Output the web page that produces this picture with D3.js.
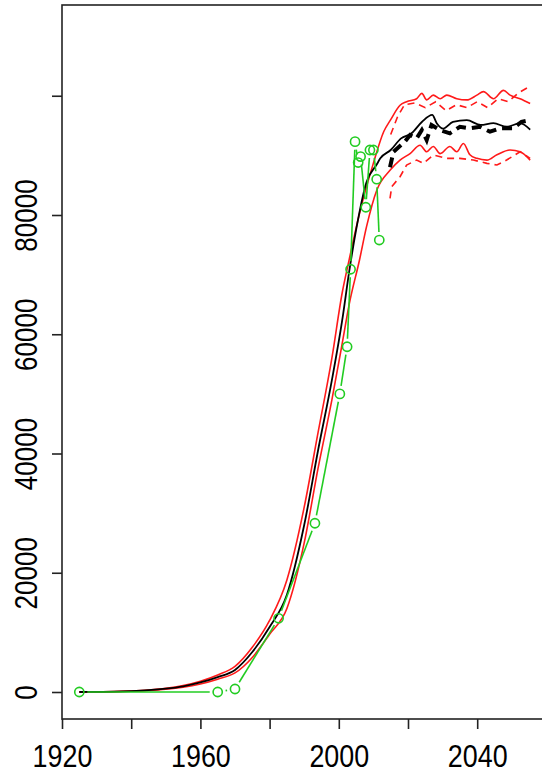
<!DOCTYPE html>
<html>
<head>
<meta charset="utf-8">
<script src="https://cdn.jsdelivr.net/npm/d3@7/dist/d3.min.js"></script>
<style>
  body { margin: 0; background: #fff; }
  svg { display: block; }
  .tick text { font-family: "Liberation Sans", Arial, sans-serif; fill: #000; }
</style>
</head>
<body>
<div id="chart"></div>
<script>
// observed values (green points, drawn R type "b")
var obsYear  = [1925, 1965, 1970, 1982.6, 1993.1, 2000.3, 2002.4, 2003.4, 2004.7, 2005.6, 2006.3, 2007.8, 2009.0, 2010.0, 2010.95, 2011.7];
var obsValue = [0, 0, 500, 12360, 28300, 50000, 57900, 70900, 92300, 88800, 89800, 81300, 90900, 90900, 86000, 75800];

// fitted curve (black solid)
var fitYear  = [1925, 1930, 1935, 1940, 1945, 1950, 1955, 1960, 1965, 1970, 1975, 1980, 1985, 1990, 1994, 1998, 2001, 2003, 2005, 2008, 2011, 2012, 2015, 2018, 2021, 2024, 2027, 2028.3, 2030.2, 2033, 2037, 2041, 2044.7, 2048.5, 2052.4, 2055.3];
var fitValue = [0, 20, 60, 150, 300, 550, 950, 1600, 2500, 3700, 6700, 10900, 16300, 28000, 40500, 52300, 62400, 70500, 77500, 85500, 88500, 89500, 90900, 92850, 93700, 95600, 96800, 95400, 94500, 95600, 95900, 95100, 95400, 94800, 95400, 94300];

// upper bound (red solid)
var upperYear  = [1925, 1930, 1935, 1940, 1945, 1950, 1955, 1960, 1965, 1970, 1975, 1980, 1985, 1990, 1994, 1998, 2001, 2003, 2006, 2010, 2013, 2015, 2017.7, 2019.6, 2022.5, 2024, 2025.4, 2027.3, 2029.3, 2031.2, 2034.1, 2037, 2039.9, 2041.8, 2044.7, 2047.6, 2049.5, 2052.4, 2055.3];
var upperValue = [0, 25, 70, 170, 340, 620, 1080, 1800, 2850, 4300, 7500, 12000, 18800, 31000, 43500, 56000, 67000, 72500, 80300, 88700, 94000, 96000, 98400, 99000, 99500, 100400, 99300, 100100, 99500, 100100, 99500, 99300, 100100, 100700, 99500, 100900, 100100, 99500, 98700];

// lower bound (red solid)
var lowerYear  = [1925, 1930, 1935, 1940, 1945, 1950, 1955, 1960, 1965, 1970, 1975, 1980, 1985, 1990, 1994, 1998, 2001, 2003, 2006, 2008, 2011, 2014.8, 2017.7, 2020.6, 2023.5, 2025.4, 2027.3, 2029.3, 2032.1, 2034.1, 2036, 2037.9, 2039.9, 2042.8, 2045.7, 2049.5, 2052.4, 2055.3];
var lowerValue = [0, 15, 45, 120, 250, 460, 800, 1350, 2150, 3200, 5800, 9700, 14000, 25000, 37500, 49000, 58500, 65000, 72500, 78000, 84200, 87500, 89200, 90300, 91700, 90600, 91500, 90300, 91500, 90600, 92000, 90100, 89500, 89200, 90100, 90900, 90600, 89200];

// projection (black thick dashed)
var projYear  = [2014.8, 2015.8, 2019.1, 2020.6, 2022.5, 2024, 2025.4, 2026.8, 2029.3, 2032.1, 2035, 2037.9, 2040.8, 2043.7, 2046.6, 2050.4, 2052.8, 2055.3];
var projValue = [88000, 90600, 92300, 93400, 92850, 94250, 92570, 95100, 94250, 93700, 94800, 94530, 94800, 93970, 94530, 94530, 95640, 95920];

// projection bounds (red dashed)
var projUpYear  = [2015, 2017, 2019, 2022, 2025, 2028, 2031, 2034, 2037, 2040, 2043, 2046, 2049, 2052, 2055];
var projUpValue = [93500, 96500, 98500, 98800, 98000, 99000, 97500, 98500, 98000, 99000, 98000, 99500, 99000, 100500, 101500];
var projLoYear  = [2014.8, 2015.3, 2017.7, 2019.6, 2022.5, 2024.4, 2027.3, 2031.2, 2035, 2038.9, 2042.8, 2045.7, 2048.5, 2052.4, 2055.3];
var projLoValue = [82800, 84750, 86420, 88380, 89220, 88660, 90060, 89500, 89500, 89220, 88660, 88380, 89220, 90610, 89500];

// ticks (R drops labels that would overlap)
var xTicks = [1920, 1940, 1960, 1980, 2000, 2020, 2040];
var xTickLabels = ["1920", "", "1960", "", "2000", "", "2040"];
var yTicks = [0, 20000, 40000, 60000, 80000, 100000];
var yTickLabels = ["0", "20000", "40000", "60000", "80000", ""];

var svgWidth = 542;
var svgHeight = 772;

var svg = d3.select("#chart")
  .append("svg")
  .attr("width", svgWidth)
  .attr("height", svgHeight);

var x = d3.scaleLinear().domain([1920, 2060]).range([62, 62 + 140 * 3.46]);
var y = d3.scaleLinear().domain([-4528, 115220]).range([719, 5]);

function pairs(xs, ys) {
  return xs.map(function(d, i) { return [d, ys[i]]; });
}

var line = d3.line()
  .x(d => x(d[0]))
  .y(d => y(d[1]));

var smooth = d3.line()
  .x(d => x(d[0]))
  .y(d => y(d[1]))
  .curve(d3.curveMonotoneX);

// red bounds
svg.append("path").attr("d", smooth(pairs(upperYear, upperValue)))
  .attr("fill", "none").attr("stroke", "#ff1a1a").attr("stroke-width", 1.6);
svg.append("path").attr("d", smooth(pairs(lowerYear, lowerValue)))
  .attr("fill", "none").attr("stroke", "#ff1a1a").attr("stroke-width", 1.6);
svg.append("path").attr("d", line(pairs(projUpYear, projUpValue)))
  .attr("fill", "none").attr("stroke", "#ff1a1a").attr("stroke-width", 1.6)
  .attr("stroke-dasharray", "7,5");
svg.append("path").attr("d", line(pairs(projLoYear, projLoValue)))
  .attr("fill", "none").attr("stroke", "#ff1a1a").attr("stroke-width", 1.6)
  .attr("stroke-dasharray", "7,5");

// black fit
svg.append("path").attr("d", smooth(pairs(fitYear, fitValue)))
  .attr("fill", "none").attr("stroke", "#000").attr("stroke-width", 1.8);
svg.append("path").attr("d", line(pairs(projYear, projValue)))
  .attr("fill", "none").attr("stroke", "#000").attr("stroke-width", 4)
  .attr("stroke-dasharray", "10,6");

// observed: segments with gaps around points
var obs = pairs(obsYear, obsValue);
var gap = 8;
var green = "#22cc22";
for (var i = 0; i < obs.length - 1; i++) {
  var x0 = x(obs[i][0]), y0 = y(obs[i][1]);
  var x1 = x(obs[i + 1][0]), y1 = y(obs[i + 1][1]);
  var len = Math.hypot(x1 - x0, y1 - y0);
  if (len <= 2 * gap) continue;
  var ux = (x1 - x0) / len, uy = (y1 - y0) / len;
  svg.append("line")
    .attr("x1", x0 + ux * gap).attr("y1", y0 + uy * gap)
    .attr("x2", x1 - ux * gap).attr("y2", y1 - uy * gap)
    .attr("stroke", green).attr("stroke-width", 1.6);
}
svg.selectAll("circle.obs")
  .data(obs)
  .enter()
  .append("circle")
  .attr("class", "obs")
  .attr("cx", d => x(d[0]))
  .attr("cy", d => y(d[1]))
  .attr("r", 4.6)
  .attr("fill", "none")
  .attr("stroke", green)
  .attr("stroke-width", 1.6);

// box
svg.append("rect")
  .attr("x", 62).attr("y", 5)
  .attr("width", 520).attr("height", 714)
  .attr("fill", "none").attr("stroke", "#222").attr("stroke-width", 1.6);

// axes
var xAxis = svg.append("g")
  .attr("transform", "translate(0, 719)")
  .call(d3.axisBottom(x).tickValues(xTicks).tickSize(10).tickFormat((d, i) => xTickLabels[i]));
xAxis.select(".domain").remove();
xAxis.selectAll(".tick line").attr("stroke", "#222").attr("stroke-width", 1.6);
xAxis.selectAll(".tick text")
  .attr("y", null).attr("dy", null)
  .attr("font-size", 32)
  .attr("transform", "translate(0, 48) scale(0.84, 1)");

var yAxis = svg.append("g")
  .attr("transform", "translate(62, 0)")
  .call(d3.axisLeft(y).tickValues(yTicks).tickSize(10).tickFormat((d, i) => yTickLabels[i]));
yAxis.select(".domain").remove();
yAxis.selectAll(".tick line").attr("stroke", "#222").attr("stroke-width", 1.6);
yAxis.selectAll(".tick text")
  .attr("x", null).attr("dy", null)
  .attr("text-anchor", "middle")
  .attr("font-size", 31)
  .attr("transform", "translate(-25, 0) rotate(-90) scale(0.84, 1)");
</script>
</body>
</html>
